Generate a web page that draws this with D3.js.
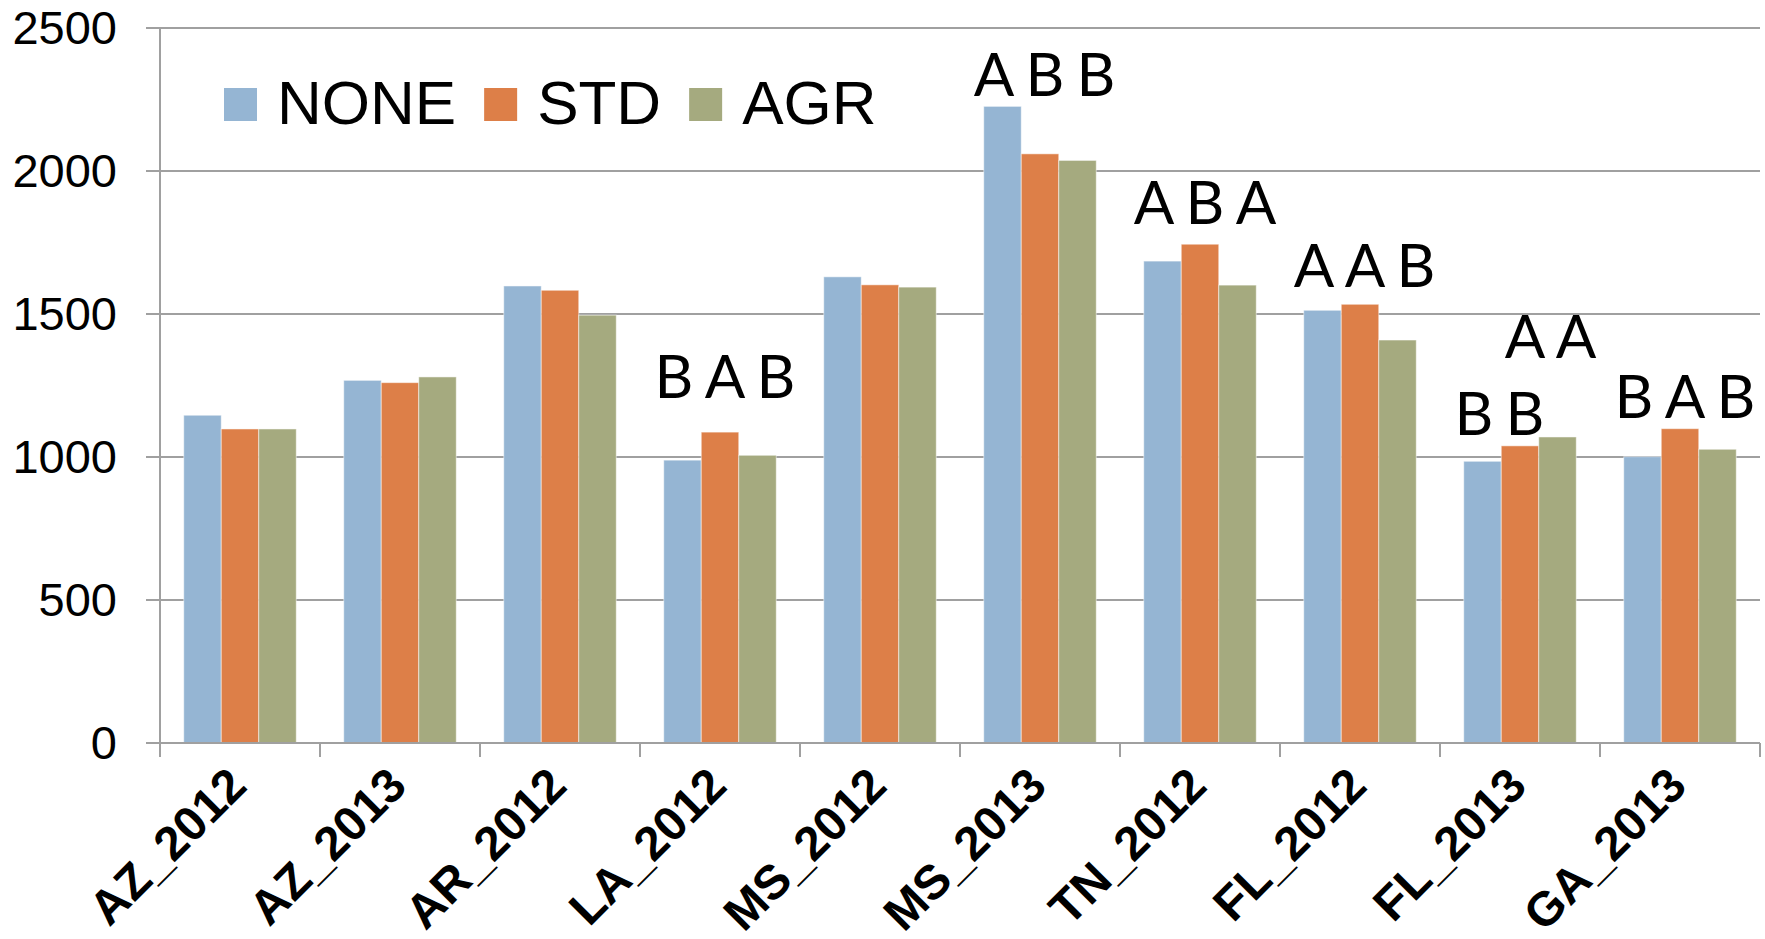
<!DOCTYPE html>
<html><head><meta charset="utf-8">
<script src="https://cdn.jsdelivr.net/npm/d3@7"></script>
<style>html,body{margin:0;padding:0;background:#fff;}</style>
</head><body>
<svg id="chart" width="1765" height="939"></svg>
<script>
const categories = ["AZ_2012","AZ_2013","AR_2012","LA_2012","MS_2012","MS_2013","TN_2012","FL_2012","FL_2013","GA_2013"];
const seriesNames = ["NONE","STD","AGR"];
const noneValues = [1146,1268,1598,989,1630,2226,1685,1513,985,1001];
const stdValues  = [1098,1260,1583,1087,1602,2060,1744,1534,1039,1099];
const agrValues  = [1098,1280,1496,1006,1594,2037,1601,1409,1070,1027];
const yTicks = [0,500,1000,1500,2000,2500];
// significance letters: category, letters per series slot, level (data units of baseline)
const letterCats   = ["LA_2012","MS_2013","TN_2012","FL_2012","FL_2013","FL_2013","GA_2013"];
const letterSets   = [["B","A","B"],["A","B","B"],["A","B","A"],["A","A","B"],["B","B",""],["","A","A"],["B","A","B"]];
const letterLevels = [1207,2263,1815,1595,1077,1346,1136];

const colors = {NONE:"#95B5D3", STD:"#DD7F48", AGR:"#A5AA7F"};
const seriesValues = {NONE:noneValues, STD:stdValues, AGR:agrValues};

const svg = d3.select("#chart");
const m = {left:160, right:1760, top:28, bottom:743};

const x0 = d3.scaleBand().domain(categories).range([m.left, m.right]).padding(0);
const x1 = d3.scaleBand().domain(seriesNames).range([0, x0.bandwidth()]).paddingInner(0).paddingOuter(0.633);
const y = d3.scaleLinear().domain([0,2500]).range([m.bottom, m.top]);

// gridlines
svg.append("g").selectAll("line").data(yTicks).join("line")
  .attr("x1", m.left-14).attr("x2", m.right)
  .attr("y1", d=>y(d)).attr("y2", d=>y(d))
  .attr("stroke","#a0a0a0").attr("stroke-width",2);

// y labels
svg.append("g").selectAll("text").data(yTicks).join("text")
  .attr("x", 117).attr("y", d=>y(d)).attr("dy","0.35em")
  .attr("text-anchor","end")
  .attr("font-family","'Liberation Sans', Arial, sans-serif")
  .attr("font-size",47).attr("fill","#000")
  .text(d=>d);

// bars
const data = categories.map((c,i)=>({cat:c, vals:seriesNames.map(s=>({s, v:seriesValues[s][i]}))}));
const groups = svg.append("g").selectAll("g").data(data).join("g")
  .attr("transform", d=>`translate(${x0(d.cat)},0)`);
groups.selectAll("rect").data(d=>d.vals).join("rect")
  .attr("x", d=>x1(d.s)).attr("width", x1.bandwidth())
  .attr("y", d=>y(d.v)).attr("height", d=>y(0)-y(d.v))
  .attr("fill", d=>colors[d.s])
  .attr("stroke","rgba(255,255,255,0.5)").attr("stroke-width",1);

// axes lines
svg.append("line").attr("x1",m.left).attr("x2",m.left).attr("y1",m.top).attr("y2",m.bottom+14)
  .attr("stroke","#a0a0a0").attr("stroke-width",2);
svg.append("line").attr("x1",m.left-14).attr("x2",m.right).attr("y1",m.bottom).attr("y2",m.bottom)
  .attr("stroke","#a0a0a0").attr("stroke-width",2);
// x ticks at band boundaries
const bounds = categories.map(c=>x0(c)).concat([m.right]);
svg.append("g").selectAll("line").data(bounds).join("line")
  .attr("x1",d=>d).attr("x2",d=>d).attr("y1",m.bottom).attr("y2",m.bottom+14)
  .attr("stroke","#a0a0a0").attr("stroke-width",2);

// x labels
svg.append("g").selectAll("text").data(categories).join("text")
  .attr("transform", d=>`translate(${x0(d)+x0.bandwidth()/2+9},${m.bottom+45}) rotate(-45)`)
  .attr("text-anchor","end")
  .attr("font-family","'Liberation Sans', Arial, sans-serif")
  .attr("font-weight","bold").attr("font-size",48).attr("fill","#000")
  .text(d=>d);

// significance letters
const letterData = [];
letterCats.forEach((c,i)=>{
  letterSets[i].forEach((L,j)=>{
    if(L) letterData.push({c, L, j, lev:letterLevels[i]});
  });
});
svg.append("g").selectAll("text").data(letterData).join("text")
  .attr("x", d=>x0(d.c)+x0.bandwidth()/2 + (d.j-1)*51 + 5)
  .attr("y", d=>y(d.lev))
  .attr("text-anchor","middle")
  .attr("font-family","Lato, 'Open Sans', sans-serif")
  .attr("font-size",60).attr("fill","#000")
  .text(d=>d.L);

// legend
const leg = svg.append("g");
let lx = 224;
seriesNames.forEach(s=>{
  leg.append("rect").attr("x",lx).attr("y",88).attr("width",33).attr("height",33).attr("fill",colors[s]);
  const t = leg.append("text").attr("x",lx+53).attr("y",124)
    .attr("font-family","'Liberation Sans', Arial, sans-serif")
    .attr("font-size",62).attr("fill","#000").text(s);
  lx = lx + 53 + t.node().getComputedTextLength() + 28;
});
</script>
</body></html>
